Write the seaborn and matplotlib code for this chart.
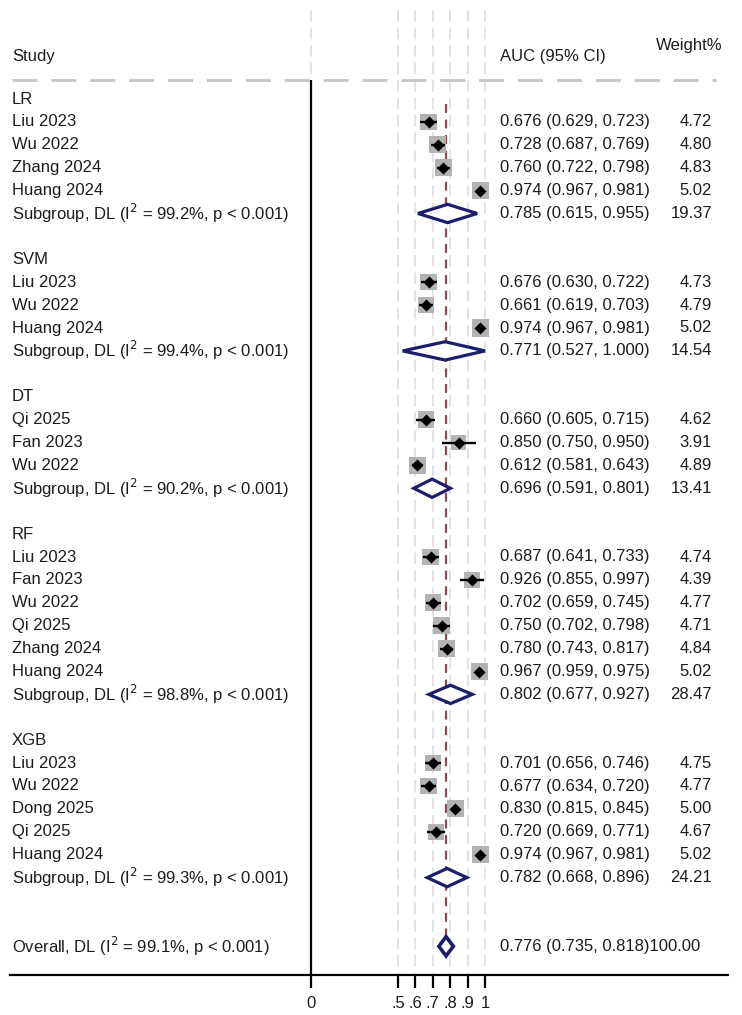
import numpy as np
import pandas as pd
import matplotlib
matplotlib.use('Agg')
import matplotlib.pyplot as plt
import seaborn as sns

# subgroup (model) data
groups = ['LR', 'SVM', 'DT', 'RF', 'XGB']
studies = [
    ['Liu 2023', 'Wu 2022', 'Zhang 2024', 'Huang 2024'],
    ['Liu 2023', 'Wu 2022', 'Huang 2024'],
    ['Qi 2025', 'Fan 2023', 'Wu 2022'],
    ['Liu 2023', 'Fan 2023', 'Wu 2022', 'Qi 2025', 'Zhang 2024', 'Huang 2024'],
    ['Liu 2023', 'Wu 2022', 'Dong 2025', 'Qi 2025', 'Huang 2024'],
]
auc = [
    [0.676, 0.728, 0.760, 0.974],
    [0.676, 0.661, 0.974],
    [0.660, 0.850, 0.612],
    [0.687, 0.926, 0.702, 0.750, 0.780, 0.967],
    [0.701, 0.677, 0.830, 0.720, 0.974],
]
lo = [
    [0.629, 0.687, 0.722, 0.967],
    [0.630, 0.619, 0.967],
    [0.605, 0.750, 0.581],
    [0.641, 0.855, 0.659, 0.702, 0.743, 0.959],
    [0.656, 0.634, 0.815, 0.669, 0.967],
]
hi = [
    [0.723, 0.769, 0.798, 0.981],
    [0.722, 0.703, 0.981],
    [0.715, 0.950, 0.643],
    [0.733, 0.997, 0.745, 0.798, 0.817, 0.975],
    [0.746, 0.720, 0.845, 0.771, 0.981],
]
weight = [
    [4.72, 4.80, 4.83, 5.02],
    [4.73, 4.79, 5.02],
    [4.62, 3.91, 4.89],
    [4.74, 4.39, 4.77, 4.71, 4.84, 5.02],
    [4.75, 4.77, 5.00, 4.67, 5.02],
]

# pooled subgroup estimates
sub_auc = [0.785, 0.771, 0.696, 0.802, 0.782]
sub_lo = [0.615, 0.527, 0.591, 0.677, 0.668]
sub_hi = [0.955, 1.000, 0.801, 0.927, 0.896]
sub_weight = [19.37, 14.54, 13.41, 28.47, 24.21]
sub_i2 = ['99.2', '99.4', '90.2', '98.8', '99.3']

overall_auc, overall_lo, overall_hi = 0.776, 0.735, 0.818
overall_i2 = '99.1'

xticks = [0, 0.5, 0.6, 0.7, 0.8, 0.9, 1]
xticklabels = ['0', '.5', '.6', '.7', '.8', '.9', '1']

# build row layout
study_rows = []
sub_rows = []
label_rows = []
row = 0
for g in range(len(groups)):
    label_rows.append((groups[g], row))
    row += 1
    for i in range(len(studies[g])):
        study_rows.append(dict(study=studies[g][i], auc=auc[g][i], lo=lo[g][i],
                               hi=hi[g][i], weight=weight[g][i], row=row))
        row += 1
    sub_rows.append(dict(auc=sub_auc[g], lo=sub_lo[g], hi=sub_hi[g],
                         weight=sub_weight[g], i2=sub_i2[g], row=row))
    row += 2
overall_row = row + 1
df = pd.DataFrame(study_rows)
sub_df = pd.DataFrame(sub_rows)

sns.set_theme(style='white')
plt.rcParams['font.family'] = ['Liberation Sans', 'DejaVu Sans']

# pixel -> data helpers (0 at 311px, 1 at 485px; row 0 at 99px, 22.9px per row)
def px(x):
    return (x - 311) / 174.0

def py(y):
    return (y - 99) / 22.9

fig = plt.figure(figsize=(7.42, 10.15), dpi=100)
ax = fig.add_axes([10 / 742, 40 / 1015, 718 / 742, 975 / 1015])
ax.set_xlim(px(10), px(728))
ax.set_ylim(py(975), py(0))

fs = 12
tcol = '#1c1c1c'

# background grid lines at ticks
ax.vlines(xticks, py(10), py(975), color='#e3e3e3', lw=1.4,
          linestyles=(0, (6, 3)), zorder=0)
# header separator
ax.hlines(py(80), px(12), px(716), color='#c4c4c4', lw=2,
          linestyles=(0, (9, 5)), zorder=1)
# null line at 0
ax.vlines(0, py(80), py(975), color='black', lw=1.6, zorder=2)
# overall effect line
ax.vlines(overall_auc, py(104), overall_row + 0.2, color='#8b4b4f', lw=1.6,
          linestyles=(0, (4, 3)), zorder=2)

# study weight boxes
sns.scatterplot(data=df, x='auc', y='row', size='weight', sizes=(0, 5.02 * 30),
                size_norm=(0, 5.02), marker='s', color='#b3b3b3', linewidth=0,
                legend=False, ax=ax, zorder=3)
ax.hlines(df.row, df.lo, df.hi, color='black', lw=1.7, zorder=4)
sns.scatterplot(data=df, x='auc', y='row', marker='D', color='black', s=38,
                linewidth=0, legend=False, ax=ax, zorder=5)

# pooled diamonds
navy = '#1b1f6b'
h = 0.4
for _, r in sub_df.iterrows():
    ax.fill([r.lo, r.auc, r.hi, r.auc], [r.row, r.row - h, r.row, r.row + h],
            facecolor='white', edgecolor=navy, lw=2.3, zorder=6)
ax.fill([overall_lo, overall_auc, overall_hi, overall_auc],
        [overall_row, overall_row - 0.42, overall_row, overall_row + 0.42],
        facecolor='white', edgecolor=navy, lw=2.6, zorder=6)

# text columns
xl, xa, xw = px(12), px(500), px(712)
ax.text(xl, py(56), 'Study', fontsize=fs, color=tcol, va='center')
ax.text(xa, py(56), 'AUC (95% CI)', fontsize=fs, color=tcol, va='center')
ax.text(px(723), py(45), 'Weight%', fontsize=fs, color=tcol, va='center', ha='right')
for name, r in label_rows:
    ax.text(xl, r, name, fontsize=fs, color=tcol, va='center')
for _, r in df.iterrows():
    ax.text(xl, r.row, r.study, fontsize=fs, color=tcol, va='center')
    ax.text(xa, r.row, f'{r.auc:.3f} ({r.lo:.3f}, {r.hi:.3f})', fontsize=fs,
            color=tcol, va='center')
    ax.text(xw, r.row, f'{r.weight:.2f}', fontsize=fs, color=tcol, va='center', ha='right')
for _, r in sub_df.iterrows():
    ax.text(xl, r.row, f'Subgroup, DL (I$^2$ = {r.i2}%, p < 0.001)', fontsize=fs,
            color=tcol, va='center')
    ax.text(xa, r.row, f'{r.auc:.3f} ({r.lo:.3f}, {r.hi:.3f})', fontsize=fs,
            color=tcol, va='center')
    ax.text(xw, r.row, f'{r.weight:.2f}', fontsize=fs, color=tcol, va='center', ha='right')
ax.text(xl, overall_row, f'Overall, DL (I$^2$ = {overall_i2}%, p < 0.001)',
        fontsize=fs, color=tcol, va='center')
ax.text(xa, overall_row, f'{overall_auc:.3f} ({overall_lo:.3f}, {overall_hi:.3f})100.00',
        fontsize=fs, color=tcol, va='center')

# x axis
for s in ['top', 'left', 'right']:
    ax.spines[s].set_visible(False)
ax.spines['bottom'].set_color('black')
ax.spines['bottom'].set_linewidth(1.6)
ax.set_yticks([])
ax.set_xticks(xticks)
ax.set_xticklabels(xticklabels, fontsize=fs, color=tcol)
ax.tick_params(axis='x', direction='out', length=9, width=1.6, color='black',
               pad=6, bottom=True)
ax.set_xlabel('')
ax.set_ylabel('')

plt.savefig('out.png', dpi=100)
